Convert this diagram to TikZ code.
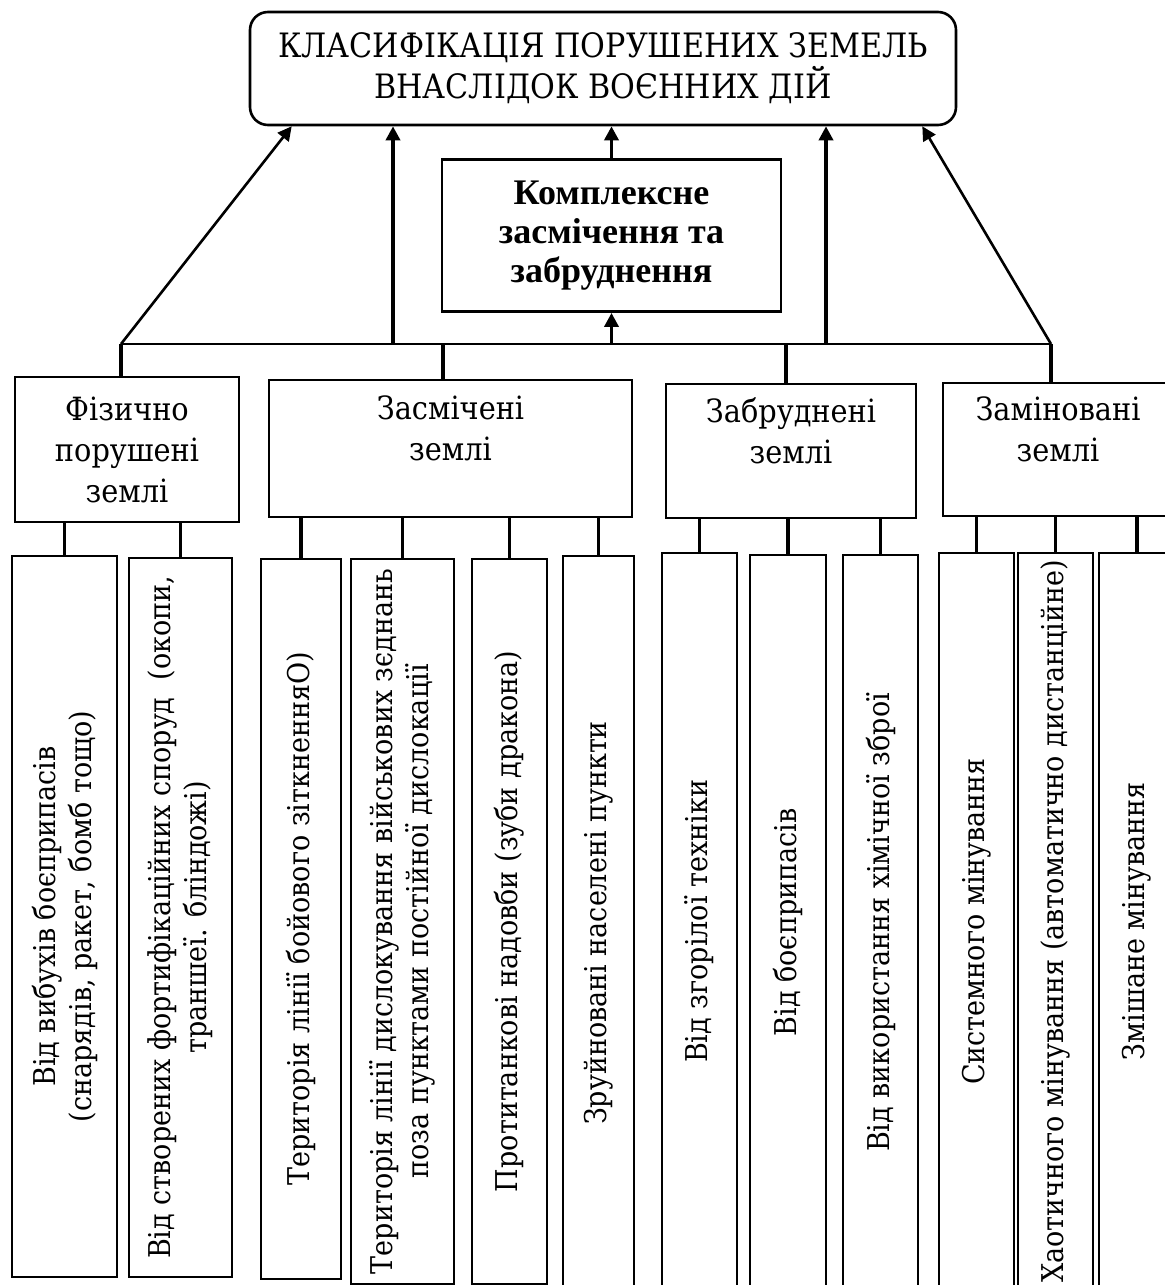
\documentclass[tikz,border=0pt]{standalone}
\usepackage{fontspec}
\setmainfont{DejaVu Serif Condensed}
\newfontfamily\timesfont{Liberation Serif}
\usepackage{tikz}
\usetikzlibrary{arrows.meta, positioning}

\begin{document}
\begin{tikzpicture}[
    x=0.5pt, y=-0.5pt,
    every node/.style={font=\fontsize{16pt}{20.5pt}\selectfont},
    box/.style={rectangle, draw, line width=1.3pt, inner sep=0pt, align=center},
    leaf/.style={rectangle, draw, line width=1pt, inner sep=0pt, align=center, rotate=90, font=\fontsize{15pt}{18pt}\selectfont},
    arrow/.style={-{Triangle[length=7pt, width=7pt]}, line width=1.8pt},
    link/.style={line width=1.3pt},
    drop/.style={line width=1.7pt}
  ]
  \useasboundingbox (0,0) rectangle (1165,1285);
  \clip (0,0) rectangle (1165,1285);

  \node[box, rounded corners=9pt, font=\fontsize{16.8pt}{20.5pt}\selectfont, minimum width=353pt, minimum height=56.5pt] (title) at (603,68.5)
  {КЛАСИФІКАЦІЯ ПОРУШЕНИХ ЗЕМЕЛЬ\\ВНАСЛІДОК ВОЄННИХ ДІЙ};

  \node[box, font=\fontsize{18pt}{19.5pt}\selectfont\timesfont\bfseries, minimum width=169.5pt, minimum height=76pt,
    below=16pt of title, xshift=4.25pt] (cplx)
  {Комплексне\\засмічення та\\забруднення};

  % second level
  \node[box, minimum width=112pt, minimum height=72.5pt] (phys) at (127,449.5) {Фізично\\порушені\\землі};
  \node[box, minimum width=181.5pt, minimum height=68.5pt] (litter) at (450.5,448.5) {Засмічені\\землі\\~};
  \node[box, minimum width=125pt, minimum height=67pt] (pollut) at (791,451) {Забруднені\\землі\\~};
  \node[box, minimum width=115pt, minimum height=66.5pt] (mined) at (1058,449.5) {Заміновані\\землі\\~};

  % third level (rotated: width is the vertical size)
  \node[leaf, minimum width=360.5pt, minimum height=52.5pt] (blast) at (64.5,916.5)
  {Від вибухів боєприпасів\\(снарядів, ракет, бомб тощо)};
  \node[leaf, minimum width=359.5pt, minimum height=51.5pt] (fort) at (180.5,917.5)
  {Від створених фортифікаційних споруд~ (окопи,\\траншеї. бліндожі)};
  \node[leaf, minimum width=360pt, minimum height=40pt] (front) at (301,919)
  {Територія лінії бойового зіткненняО)};
  \node[leaf, minimum width=362.5pt, minimum height=51.5pt] (camps) at (402.5,921.5)
  {Територія лінії дислокування військових зєднань\\поза пунктами постійної дислокації};
  \node[leaf, minimum width=362.5pt, minimum height=37.5pt] (tank) at (509.5,921.5)
  {Протитанкові надовби (зуби дракона)};
  \node[leaf, minimum width=367pt, minimum height=35.5pt] (ruins) at (598.5,923)
  {Зруйновані населені пункти};
  \node[leaf, minimum width=368.5pt, minimum height=37.5pt] (wreck) at (699.5,921.5)
  {Від згорілої техніки};
  \node[leaf, minimum width=367.5pt, minimum height=38pt] (ammo) at (788,922.5)
  {Від боєприпасів};
  \node[leaf, minimum width=367.5pt, minimum height=37.5pt] (chem) at (880.5,922.5)
  {Від використання хімічної зброї};
  \node[leaf, minimum width=368.5pt, minimum height=37.5pt] (sysmine) at (976.5,921.5)
  {Системного мінування};
  \node[leaf, minimum width=368.5pt, minimum height=37.5pt] (chaosmine) at (1055.5,921.5)
  {Хаотичного мінування (автоматично дистанційне)};
  \node[leaf, minimum width=368.5pt, minimum height=38pt] (mixmine) at (1137,921.5)
  {Змішане мінування};

  % bus line
  \coordinate (busL) at (121,344);
  \coordinate (busA) at (393,344);
  \coordinate (busC) at (443,344);
  \coordinate (busD) at (786,344);
  \coordinate (busB) at (826,344);
  \coordinate (busR) at (1051,344);
  \draw[link] (busL) -- (busR);

  \draw[arrow, line width=1.3pt] (busL) -- ([xshift=21.5pt]title.south west);
  \draw[arrow, line width=1.3pt] (busR) -- ([xshift=-17.5pt]title.south east);
  \draw[arrow] (busA) -- (busA |- title.south);
  \draw[arrow] (busB) -- (busB |- title.south);
  \draw[arrow] (cplx.north) -- (cplx.north |- title.south);
  \draw[arrow] (cplx.south |- busL) -- (cplx.south);

  \draw[drop] (busL) -- (busL |- phys.north);
  \draw[drop] (busC) -- (busC |- litter.north);
  \draw[drop] (busD) -- (busD |- pollut.north);
  \draw[drop] (busR) -- (busR |- mined.north);

  \foreach \leafname/\parent in {blast/phys, fort/phys, front/litter, camps/litter, tank/litter, ruins/litter,
      wreck/pollut, ammo/pollut, chem/pollut, sysmine/mined, chaosmine/mined, mixmine/mined}
    \draw[drop] (\leafname.east) -- (\leafname.east |- \parent.south);

\end{tikzpicture}
\end{document}
